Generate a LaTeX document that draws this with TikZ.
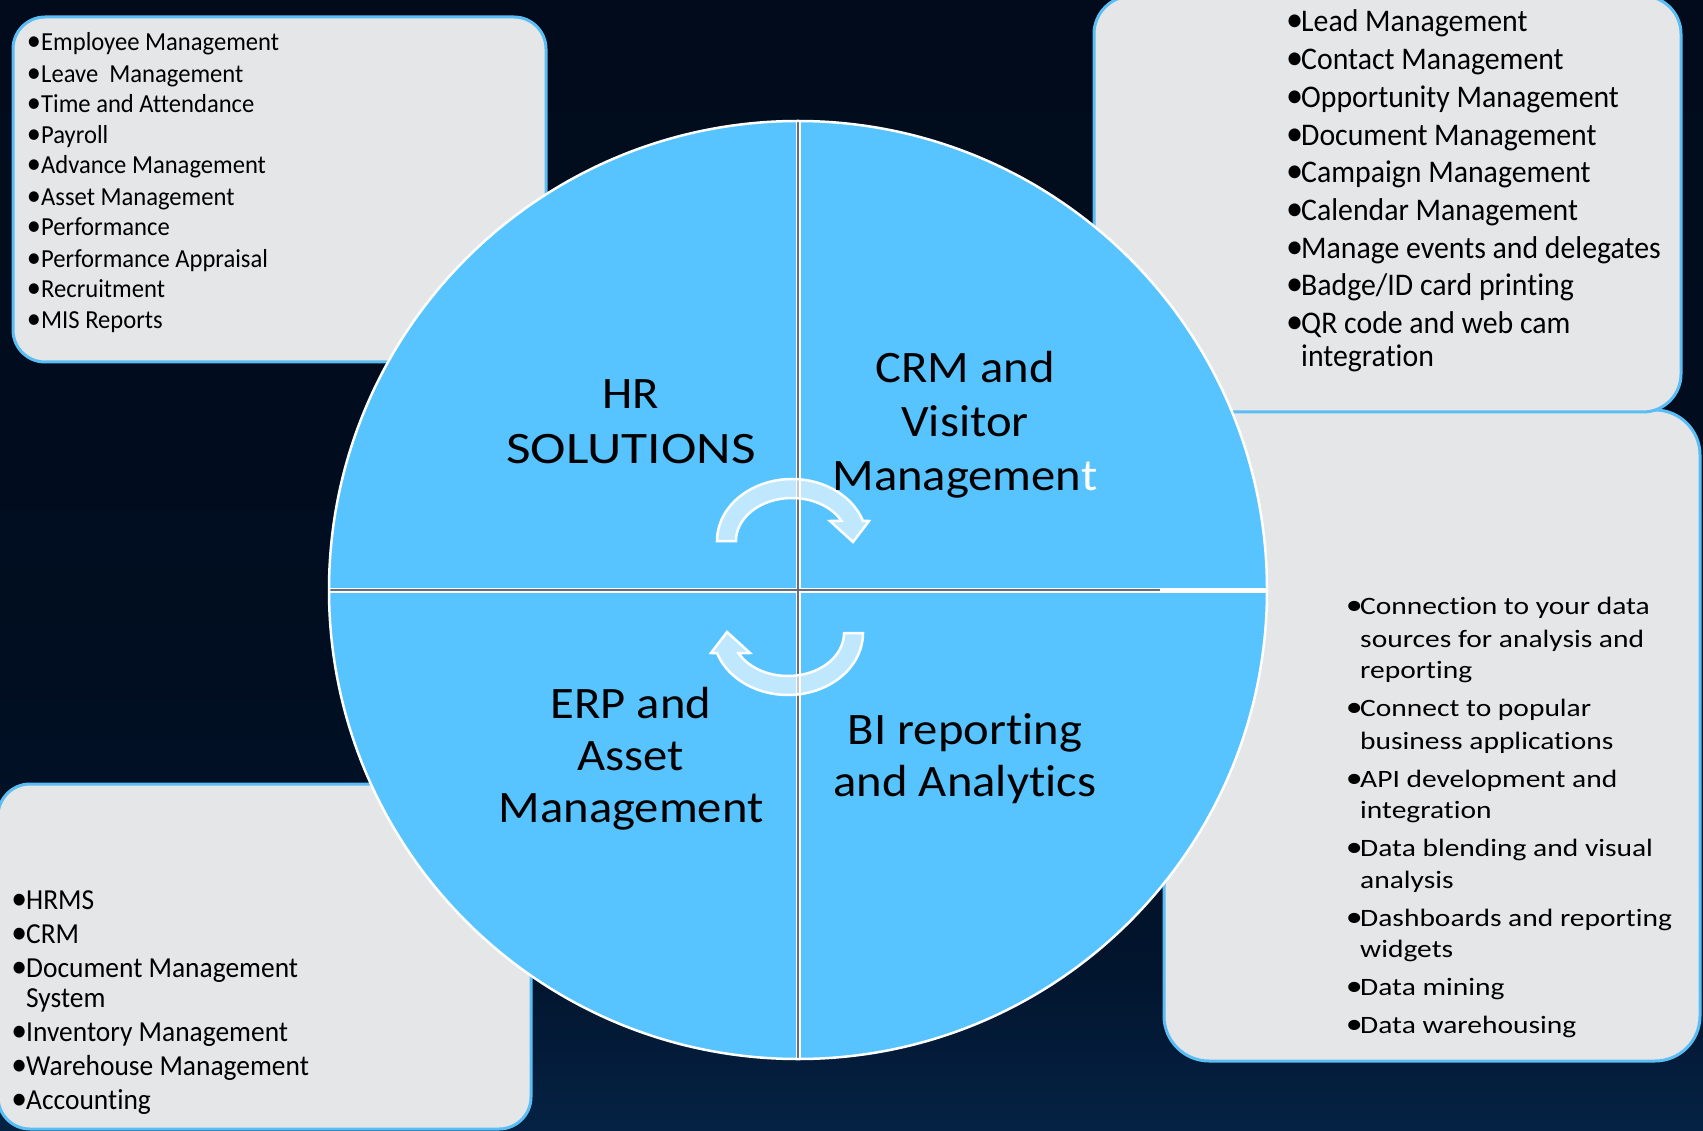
\documentclass[tikz,border=0pt]{standalone}
\usepackage{fontspec}
\setmainfont{Carlito}[Ligatures=NoCommon]
\newfontfamily\fTL{Carlito}[FakeStretch=0.946,Ligatures=NoCommon]
\newfontfamily\fBR{Carlito}[FakeStretch=1.18,Ligatures=NoCommon]
\newfontfamily\fCT{Carlito}[FakeStretch=1.08,Ligatures=NoCommon]
\definecolor{bgtop}{RGB}{1,11,27}
\definecolor{bgmid}{RGB}{1,14,33}
\definecolor{bgmidb}{RGB}{2,21,46}
\definecolor{bgbot}{RGB}{5,34,68}
\definecolor{boxline}{RGB}{90,190,245}
\definecolor{boxfill}{RGB}{229,230,232}
\definecolor{circ}{RGB}{87,195,255}
\definecolor{divgray}{RGB}{100,108,125}
\pgfdeclareverticalshading{bgshade}{100bp}{color(0bp)=(bgbot); color(25bp)=(bgbot); color(32bp)=(bgmidb); color(45bp)=(bgmid); color(75bp)=(bgtop); color(100bp)=(bgtop)}
\newcommand\bu{\makebox[11pt][l]{\makebox[0pt][l]{\hspace*{-0.13em}\scalebox{1.15}{•}}}}
\newcommand\nb{\hspace*{11pt}}
\begin{document}
\begin{tikzpicture}[x=1pt,y=-1pt,
  box/.style={draw=boxline, line width=3pt, fill=boxfill},
  tlitem/.style={anchor=base west, inner sep=0pt, font=\fTL\fontsize{26}{30}\selectfont},
  tritem/.style={anchor=base west, inner sep=0pt, font=\fTL\fontsize{31.5}{36}\selectfont},
  blitem/.style={anchor=base west, inner sep=0pt, font=\fTL\fontsize{29}{34}\selectfont},
  britem/.style={anchor=base west, inner sep=0pt, font=\fBR\fontsize{25}{30}\selectfont},
  qlabel/.style={anchor=base, inner sep=0pt, font=\fCT\fontsize{45}{53}\selectfont},
  arrowst/.style={fill=white, fill opacity=0.62, draw=white, draw opacity=1, line width=2.5pt, line join=miter},
]
\useasboundingbox (0,0) rectangle (1703,1131);
% background
\shade[shading=bgshade] (0,0) rectangle (1703,1131);
% boxes
\draw[box, rounded corners=45pt] (1164,410) rectangle (1700,1061);
\draw[box, rounded corners=38pt] (1094,-4) rectangle (1681,412);
\draw[box, rounded corners=32pt] (13,17) rectangle (546,362);
\draw[box, rounded corners=32pt] (-2,784) rectangle (531,1129);
% circle
\fill[circ] (798,590) circle[radius=469pt];
\draw[white, line width=5pt] (798,121) -- (798,1059);
\draw[white, line width=5pt] (329,590) -- (1267,590);
\draw[divgray, line width=1.2pt] (798,122) -- (798,1058);
\draw[divgray, line width=1.2pt] (330,590) -- (1160,590);
\draw[white, line width=2.5pt] (798,590) circle[radius=469pt];
% arrows
\path[arrowst] plot[domain=180:19, samples=60, variable=\t] ({792+75*cos(\t)},{541-62*sin(\t)})
  -- (869,521) -- (853,542) -- (830,521)
  -- plot[domain=28:180, samples=60, variable=\t] ({792+56*cos(\t)},{541-43*sin(\t)}) -- cycle;
\path[arrowst] plot[domain=180:19, samples=60, variable=\t] ({788-75*cos(\t)},{633+62*sin(\t)})
  -- (711,653) -- (727,632) -- (750,653)
  -- plot[domain=28:180, samples=60, variable=\t] ({788-56*cos(\t)},{633+43*sin(\t)}) -- cycle;
% quadrant labels
\node[qlabel] (hr1) at (631,409) {HR};
\node[qlabel] (hr2) at (631,463) {\scalebox{1.1}[1]{SOLUTIONS}};
\node[qlabel] (crm1) at (965,383) {CRM and};
\node[qlabel] (crm2) at (965,436) {Visitor};
\node[qlabel] (crm3) at (965,490) {Managemen{\color{white}t}};
\node[qlabel] (erp1) at (631,718) {ERP and};
\node[qlabel] (erp2) at (631,770) {Asset};
\node[qlabel] (erp3) at (631,822) {Management};
\node[qlabel] (bi1) at (965,744) {BI reporting};
\node[qlabel] (bi2) at (965,796) {and Analytics};
% top-left list
\foreach \yy/\txt [count=\i] in {51/{\bu Employee Management}, 83/{\bu Leave\ \ Management},
  113/{\bu Time and Attendance}, 144/{\bu Payroll}, 174/{\bu Advance Management},
  206/{\bu Asset Management}, 236/{\bu Performance}, 268/{\bu Performance Appraisal},
  298/{\bu Recruitment}, 329/{\bu MIS Reports}}
  \node[tlitem] (tl\i) at (30,\yy) {\txt};
% top-right list
\foreach \yy/\txt [count=\i] in {32/{\bu Lead Management}, 70/{\bu Contact Management},
  108/{\bu Opportunity Management}, 146/{\bu Document Management}, 183/{\bu Campaign Management},
  221/{\bu Calendar Management}, 259/{\bu Manage events and delegates},
  296/{\bu Badge/ID card printing}, 334/{\bu QR code and web cam}, 367/{\nb integration}}
  \node[tritem] (tr\i) at (1290,\yy) {\txt};
% bottom-left list
\foreach \yy/\txt [count=\i] in {909/{\bu HRMS}, 943/{\bu CRM}, 977/{\bu Document Management},
  1007/{\nb System}, 1041/{\bu Inventory Management}, 1075/{\bu Warehouse Management},
  1109/{\bu Accounting}}
  \node[blitem] (bl\i) at (15,\yy) {\txt};
% bottom-right list
\foreach \yy/\txt [count=\i] in {614/{\bu Connection to your data}, 647/{\nb sources for analysis and},
  678/{\nb reporting}, 716/{\bu Connect to popular}, 749/{\nb business applications},
  787/{\bu API development and}, 818/{\nb integration}, 856/{\bu Data blending and visual},
  888/{\nb analysis}, 926/{\bu Dashboards and reporting}, 957/{\nb widgets},
  995/{\bu Data mining}, 1033/{\bu Data warehousing}}
  \node[britem] (br\i) at (1349,\yy) {\txt};
\end{tikzpicture}
\end{document}
